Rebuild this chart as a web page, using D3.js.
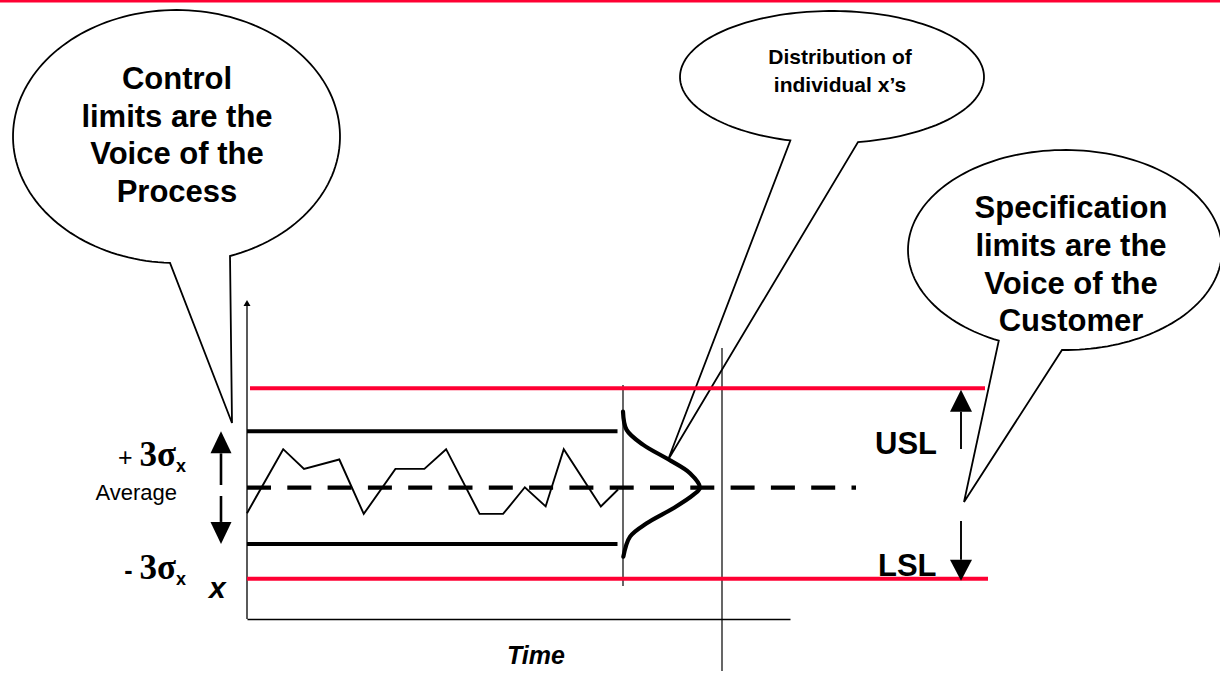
<!DOCTYPE html>
<html>
<head>
<meta charset="utf-8">
<script src="https://cdn.jsdelivr.net/npm/d3@7"></script>
<style>
  html, body { margin: 0; padding: 0; background: #fff; }
  svg { display: block; }
  text { font-family: "Liberation Sans", Arial, sans-serif; }
</style>
</head>
<body>
<svg id="chart" width="1220" height="678"></svg>
<script>
// ---------------- data ----------------
const timePoints   = [0, 2, 3.15, 5.1, 6.45, 8.2, 9.8, 11, 12.85, 14.15, 15.35, 16.5, 17.5, 19.55, 20.5];
const measurements = [-1.36, 2.05, 1.0, 1.5, -1.4, 1.0, 1.0, 2.05, -1.4, -1.4, 0.02, -1.0, 2.05, -1.0, -0.1];
const centerValue = 0;
const controlLimitValues = [3, -3];        // +3σ, -3σ
const specLimitValues = [5.3, -4.85];      // USL, LSL
const bellLevels  = [4.05, 3.08, 2.28, 1.51, 0.77, 0, -0.39, -1.1, -1.9, -2.61, -3.68];
const bellDensity = [0, 0.2, 1.12, 2.5, 3.7, 4.25, 3.88, 2.78, 1.31, 0.39, 0.02];
const leftBubbleLines  = ["Control", "limits are the", "Voice of the", "Process"];
const midBubbleLines   = ["Distribution of", "individual x\u2019s"];
const rightBubbleLines = ["Specification", "limits are the", "Voice of the", "Customer"];
const specLabels = ["USL", "LSL"];

// ---------------- setup ----------------
const RED = "#ff0033";
const svg = d3.select("#chart");
const x = d3.scaleLinear().domain([0, 30]).range([247, 790]);
const y = d3.scaleLinear().domain([-7, 10]).range([619, 300]);

// top red rule
svg.append("rect").attr("x", 0).attr("y", 0).attr("width", 1220).attr("height", 2.5).attr("fill", RED);

// ---------------- callout bubbles ----------------
function callout(cx, cy, rx, ry, p1, p2, tip) {
  const ang = p => Math.atan2((p[1] - cy) / ry, (p[0] - cx) / rx);
  let a1 = ang(p1), a2 = ang(p2);
  if (a1 < a2) a1 += 2 * Math.PI;
  let start = a1, end = a2 + 2 * Math.PI;
  if (end - start < Math.PI) { start = a2; end = a1; }
  const pts = [];
  const n = 160;
  for (let i = 0; i <= n; i++) {
    const a = start + (end - start) * i / n;
    pts.push([cx + rx * Math.cos(a), cy + ry * Math.sin(a)]);
  }
  pts.push(tip);
  return d3.line()(pts) + "Z";
}
const bubbles = svg.append("g");
function drawBubble(cx, cy, rx, ry, p1, p2, tip) {
  bubbles.append("path")
    .attr("d", callout(cx, cy, rx, ry, p1, p2, tip))
    .attr("fill", "#fff").attr("stroke", "#000").attr("stroke-width", 1.8)
    .attr("stroke-linejoin", "miter");
}
drawBubble(176.5, 136.5, 163.5, 126.5, [170, 263], [230, 256], [232, 423]);
drawBubble(832, 77, 152, 66, [790, 141], [858, 142], [668, 460]);
drawBubble(1065, 250, 157, 100, [1000, 339], [1062, 350], [964, 502]);

function bubbleText(lines, cx, y0, lh, size) {
  const t = svg.append("text").attr("text-anchor", "middle")
    .attr("font-weight", "bold").attr("font-size", size).attr("fill", "#000");
  lines.forEach((s, i) => t.append("tspan").attr("x", cx).attr("y", y0 + i * lh).text(s));
}
bubbleText(leftBubbleLines, 177, 89, 37.6, 31);
bubbleText(midBubbleLines, 840, 64, 28, 21);
bubbleText(rightBubbleLines, 1071, 218, 37.8, 31);

// ---------------- axes ----------------
const yAxis = svg.append("g").attr("transform", `translate(${x(0)},0)`)
  .call(d3.axisLeft(y).tickValues([]).tickSizeOuter(0));
yAxis.select(".domain").attr("stroke", "#000").attr("stroke-width", 1.3)
  .attr("d", `M0,${y(-7)}V${y(10) + 4}`);
svg.append("path")
  .attr("d", `M${x(0)},${y(10)} l-3.5,6 h7 Z`).attr("fill", "#000");

const xAxis = svg.append("g").attr("transform", `translate(0,${y(-7)})`)
  .call(d3.axisBottom(x).tickValues([]).tickSizeOuter(0));
xAxis.select(".domain").attr("stroke", "#000").attr("stroke-width", 1.5);

// vertical reference lines
svg.append("line").attr("x1", 623).attr("x2", 623).attr("y1", 385).attr("y2", 586)
  .attr("stroke", "#000").attr("stroke-width", 1.2);
svg.append("line").attr("x1", 722).attr("x2", 722).attr("y1", 348).attr("y2", 671)
  .attr("stroke", "#000").attr("stroke-width", 1.2);

// ---------------- limit lines ----------------
svg.append("line").attr("x1", 250).attr("x2", 985)
  .attr("y1", y(specLimitValues[0])).attr("y2", y(specLimitValues[0]))
  .attr("stroke", RED).attr("stroke-width", 4);
svg.append("line").attr("x1", 247).attr("x2", 988)
  .attr("y1", y(specLimitValues[1])).attr("y2", y(specLimitValues[1]))
  .attr("stroke", RED).attr("stroke-width", 4);

controlLimitValues.forEach(v => {
  svg.append("line").attr("x1", 247).attr("x2", 617.5)
    .attr("y1", y(v)).attr("y2", y(v))
    .attr("stroke", "#000").attr("stroke-width", 4);
});

svg.append("line").attr("x1", 247).attr("x2", 856)
  .attr("y1", y(centerValue)).attr("y2", y(centerValue))
  .attr("stroke", "#000").attr("stroke-width", 4.2).attr("stroke-dasharray", "24,16.3");

// ---------------- process data line ----------------
svg.append("path")
  .datum(timePoints.map((t, i) => [t, measurements[i]]))
  .attr("fill", "none").attr("stroke", "#000").attr("stroke-width", 1.9)
  .attr("stroke-linejoin", "miter")
  .attr("d", d3.line().x(d => x(d[0])).y(d => y(d[1])));

// ---------------- distribution curve ----------------
const bellBase = x.invert(623);
svg.append("path")
  .datum(bellLevels.map((v, i) => [bellDensity[i], v]))
  .attr("fill", "none").attr("stroke", "#000").attr("stroke-width", 4.2)
  .attr("stroke-linecap", "round")
  .attr("d", d3.line().x(d => x(bellBase + d[0])).y(d => y(d[1])).curve(d3.curveCatmullRom.alpha(0.5)));

// ---------------- arrows ----------------
function arrow(xp, yFrom, yTip, headLen, headW, sw) {
  const dir = yTip < yFrom ? -1 : 1;
  const base = yTip - dir * headLen;
  svg.append("line").attr("x1", xp).attr("x2", xp).attr("y1", yFrom).attr("y2", base)
    .attr("stroke", "#000").attr("stroke-width", sw);
  svg.append("path").attr("d", `M${xp},${yTip}L${xp - headW / 2},${base}L${xp + headW / 2},${base}Z`)
    .attr("fill", "#000");
}
arrow(221, 485, y(controlLimitValues[0]), 22, 21, 2.6);
arrow(221, 496, y(controlLimitValues[1]), 22, 21, 2.6);
arrow(961, 449, y(specLimitValues[0]) + 1.5, 22, 22, 1.9);
arrow(961, 521, y(specLimitValues[1]) + 2, 21, 22, 1.9);

// ---------------- labels ----------------
svg.append("text").attr("x", 875).attr("y", 454).attr("font-weight", "bold").attr("font-size", 31).text(specLabels[0]);
svg.append("text").attr("x", 878).attr("y", 576).attr("font-weight", "bold").attr("font-size", 31).text(specLabels[1]);

function sigmaLabel(sign, yb) {
  const t = svg.append("text").attr("x", 186).attr("y", yb).attr("text-anchor", "end");
  t.append("tspan").attr("font-size", 25).attr("font-weight", sign === "-" ? "bold" : "normal").text(sign + " ");
  t.append("tspan").attr("font-family", "'Liberation Serif', 'Times New Roman', serif")
    .attr("font-weight", "bold").attr("font-size", 35).text("3\u03c3");
  t.append("tspan").attr("font-weight", "bold").attr("font-size", 18).attr("dy", 6).text("x");
}
sigmaLabel("+", 466);
sigmaLabel("-", 579);

svg.append("text").attr("x", 177).attr("y", 500).attr("text-anchor", "end")
  .attr("font-size", 22).text("Average");
svg.append("text").attr("x", 209).attr("y", 598).attr("font-weight", "bold")
  .attr("font-style", "italic").attr("font-size", 30).text("x");
svg.append("text").attr("x", 536).attr("y", 664).attr("text-anchor", "middle").attr("font-weight", "bold")
  .attr("font-style", "italic").attr("font-size", 25).text("Time");
</script>
</body>
</html>
